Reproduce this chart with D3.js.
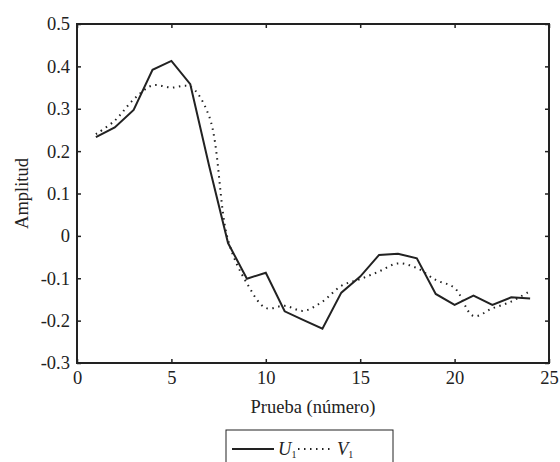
<!DOCTYPE html>
<html>
<head>
<meta charset="utf-8">
<script src="https://cdn.jsdelivr.net/npm/d3@7"></script>
<style>
  body { margin: 0; background: #fff; }
  svg text { font-family: "Liberation Serif", "DejaVu Serif", serif; fill: #222; }
</style>
</head>
<body>
<svg id="chart" width="560" height="462"></svg>
<script>
// trials 1..24
var trials = d3.range(1, 25);
var uValues = [0.233, 0.256, 0.297, 0.392, 0.413, 0.358, 0.165, -0.017, -0.101, -0.087, -0.178, -0.199,
               -0.219, -0.134, -0.096, -0.045, -0.042, -0.053, -0.137, -0.163, -0.141, -0.163, -0.145, -0.148];
var vValues = [0.240, 0.272, 0.322, 0.355, 0.350, 0.352, 0.282, -0.010, -0.112, -0.170, -0.165, -0.177,
               -0.155, -0.118, -0.102, -0.084, -0.065, -0.076, -0.104, -0.123, -0.189, -0.171, -0.155, -0.130];
var xTicks = [0, 5, 10, 15, 20, 25];
var yTicks = [0.5, 0.4, 0.3, 0.2, 0.1, 0, -0.1, -0.2, -0.3];

var mLeft = 77, mRight = 549, mTop = 24, mBottom = 363;
var svg = d3.select("#chart");

var x = d3.scaleLinear().domain([0, 25]).range([mLeft, mRight]);
var y = d3.scaleLinear().domain([-0.3, 0.5]).range([mBottom, mTop]);

var fmt = function(d) { return d === 0 ? "0" : d3.format(".1f")(d).replace("\u2212", "-"); };

// box
svg.append("rect")
  .attr("x", mLeft).attr("y", mTop)
  .attr("width", mRight - mLeft).attr("height", mBottom - mTop)
  .attr("fill", "none").attr("stroke", "#222").attr("stroke-width", 2);

// inward ticks on all four sides
var xAxis = svg.append("g").attr("transform", "translate(0," + mBottom + ")")
  .call(d3.axisBottom(x).tickValues(xTicks).tickSize(-4).tickPadding(8).tickFormat(d3.format("d")));
var xTop = svg.append("g").attr("transform", "translate(0," + mTop + ")")
  .call(d3.axisTop(x).tickValues(xTicks).tickSize(-4).tickFormat(""));
var yAxis = svg.append("g").attr("transform", "translate(" + mLeft + ",0)")
  .call(d3.axisLeft(y).tickValues(yTicks).tickSize(-4).tickPadding(7).tickFormat(fmt));
var yRight = svg.append("g").attr("transform", "translate(" + mRight + ",0)")
  .call(d3.axisRight(y).tickValues(yTicks).tickSize(-4).tickFormat(""));

[xAxis, xTop, yAxis, yRight].forEach(function(g) {
  g.select(".domain").remove();
  g.selectAll(".tick line").attr("stroke", "#222").attr("stroke-width", 1.5);
  g.selectAll("text").attr("font-size", 18.5).style("font-family", "Liberation Serif, serif").attr("fill", "#222");
});

// series
var lineU = d3.line().x(function(d, i) { return x(trials[i]); }).y(function(d) { return y(d); });
var lineV = d3.line().x(function(d, i) { return x(trials[i]); }).y(function(d) { return y(d); })
  .curve(d3.curveCatmullRom.alpha(0.5));

svg.append("path").datum(vValues)
  .attr("d", lineV).attr("fill", "none").attr("stroke", "#222")
  .attr("stroke-width", 2).attr("stroke-dasharray", "1.5,4.5").attr("stroke-linecap", "butt");

svg.append("path").datum(uValues)
  .attr("d", lineU).attr("fill", "none").attr("stroke", "#222").attr("stroke-width", 2);

// axis titles
svg.append("text")
  .attr("x", (mLeft + mRight) / 2).attr("y", 413)
  .attr("text-anchor", "middle").attr("font-size", 18.5)
  .text("Prueba (número)");
svg.append("text")
  .attr("transform", "translate(28," + ((mTop + mBottom) / 2) + ") rotate(-90)")
  .attr("text-anchor", "middle").attr("font-size", 18.5)
  .text("Amplitud");

// legend
var lg = svg.append("g");
lg.append("rect").attr("x", 226).attr("y", 430).attr("width", 167).attr("height", 40)
  .attr("fill", "#fff").attr("stroke", "#222").attr("stroke-width", 1);
lg.append("line").attr("x1", 232).attr("x2", 274).attr("y1", 449).attr("y2", 449)
  .attr("stroke", "#222").attr("stroke-width", 2);
var tu = lg.append("text").attr("x", 278).attr("y", 455).attr("font-size", 18.5);
tu.append("tspan").attr("font-style", "italic").text("U");
tu.append("tspan").attr("font-size", 10).attr("dy", 3).text("1");
lg.append("line").attr("x1", 298).attr("x2", 332).attr("y1", 449).attr("y2", 449)
  .attr("stroke", "#222").attr("stroke-width", 2).attr("stroke-dasharray", "1.5,4.5");
var tv = lg.append("text").attr("x", 337).attr("y", 455).attr("font-size", 18.5);
tv.append("tspan").attr("font-style", "italic").text("V");
tv.append("tspan").attr("font-size", 10).attr("dy", 3).text("1");
</script>
</body>
</html>
